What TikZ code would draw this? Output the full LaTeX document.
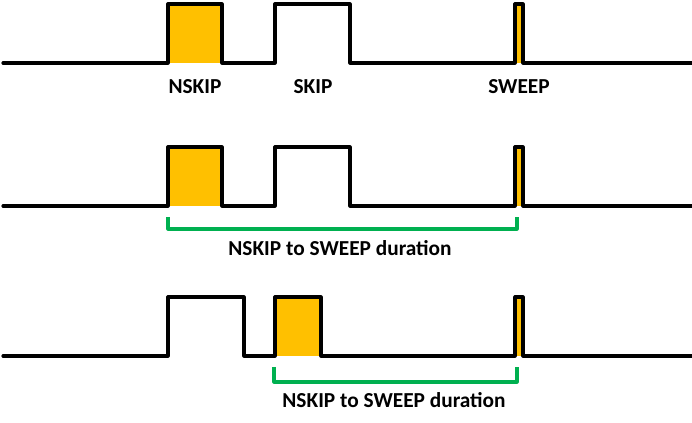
\documentclass[tikz,border=0pt]{standalone}
\usepackage{fontspec}
\setmainfont{Carlito}
\usetikzlibrary{positioning}

\definecolor{skipgold}{HTML}{FFC000}
\definecolor{spangreen}{HTML}{00B050}

\tikzset{
  wave/.style={line width=2.4pt, line join=round, line cap=round},
  hot/.style={fill=skipgold},
  span/.style={draw=spangreen, line width=2.4pt, line join=round},
  lbl/.style={font=\fontsize{16}{18}\selectfont\bfseries, inner sep=1pt}
}

\begin{document}
\begin{tikzpicture}[x=0.75pt, y=-0.75pt]
    \useasboundingbox (0,0) rectangle (692,423);

    % row 1 : NSKIP, SKIP, SWEEP
    \fill[hot] (168,4) rectangle (222,63);
    \fill[hot] (515,4) rectangle (523,63);
    \draw[wave] (3,63) -- (168,63) -- (168,4) -- (222,4) -- (222,63)
        -- (275,63) -- (275,4) -- (350,4) -- (350,63)
        -- (515,63) -- (515,4) -- (523,4) -- (523,63) -- (692,63);
    \node[lbl] (nskip) at (195,87) {NSKIP};
    \node[lbl] (skip)  at (313,87) {SKIP};
    \node[lbl] (sweep) at (519,87) {SWEEP};

    % row 2 : NSKIP first
    \fill[hot] (168,147) rectangle (222,206);
    \fill[hot] (515,147) rectangle (523,206);
    \draw[wave] (3,206) -- (168,206) -- (168,147) -- (222,147) -- (222,206)
        -- (275,206) -- (275,147) -- (350,147) -- (350,206)
        -- (515,206) -- (515,147) -- (523,147) -- (523,206) -- (692,206);
    \coordinate (a2) at (168,217);
    \coordinate (b2) at (517,217);
    \draw[span] (a2) -- ++(0,12) -| (b2);
    \node[lbl] (dur2) at (340,248) {NSKIP to SWEEP duration};

    % row 3 : SKIP first
    \fill[hot] (275,297) rectangle (321,356);
    \fill[hot] (515,297) rectangle (523,356);
    \draw[wave] (3,356) -- (168,356) -- (168,297) -- (244,297) -- (244,356)
        -- (275,356) -- (275,297) -- (321,297) -- (321,356)
        -- (515,356) -- (515,297) -- (523,297) -- (523,356) -- (692,356);
    \coordinate (a3) at (274,367);
    \coordinate (b3) at (517,367);
    \draw[span] (a3) -- ++(0,15) -| (b3);
    \node[lbl] (dur3) at (394,400) {NSKIP to SWEEP duration};
\end{tikzpicture}
\end{document}
